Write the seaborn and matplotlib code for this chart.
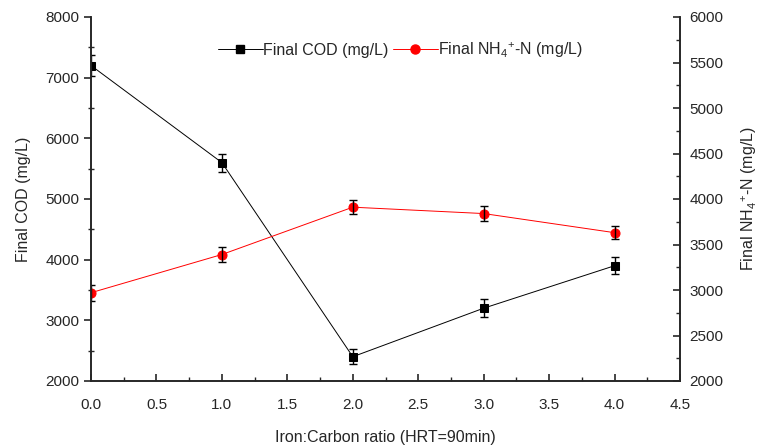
import matplotlib
matplotlib.use("Agg")
import matplotlib.pyplot as plt
import seaborn as sns
import pandas as pd
from matplotlib.ticker import MultipleLocator
from matplotlib.lines import Line2D

ratio = [0, 1, 2, 3, 4]
cod = [7200, 5600, 2400, 3200, 3900]
cod_err = [170, 150, 120, 150, 140]
nh4 = [2970, 3390, 3910, 3840, 3630]
nh4_err = [90, 80, 80, 80, 70]

sns.set_style("ticks")
plt.rcParams['font.family'] = ['Liberation Sans', 'DejaVu Sans']
plt.rcParams['mathtext.fontset'] = 'custom'
plt.rcParams['mathtext.rm'] = 'Liberation Sans'

df = pd.DataFrame({"ratio": ratio, "cod": cod, "nh4": nh4})

fig = plt.figure(figsize=(7.68, 4.45), dpi=100)
ax = fig.add_axes([91/768, 64/445, (680-91)/768, (381-17)/445])
ax2 = ax.twinx()

sns.lineplot(data=df, x="ratio", y="cod", ax=ax, color="black", linewidth=0.7,
             marker="s", markersize=6, markeredgecolor="black", markerfacecolor="black")
ax.errorbar(ratio, cod, yerr=cod_err, fmt="none", ecolor="black", elinewidth=1, capsize=3, capthick=1)

sns.lineplot(data=df, x="ratio", y="nh4", ax=ax2, color="red", linewidth=0.7,
             marker="o", markersize=6.5, markeredgecolor="red", markerfacecolor="red")
ax2.errorbar(ratio, nh4, yerr=nh4_err, fmt="none", ecolor="black", elinewidth=1, capsize=3, capthick=1)

ax.set_xlim(0, 4.5)
ax.set_ylim(2000, 8000)
ax2.set_ylim(2000, 6000)

ax.xaxis.set_major_locator(MultipleLocator(0.5))
ax.xaxis.set_minor_locator(MultipleLocator(0.25))
ax.yaxis.set_major_locator(MultipleLocator(1000))
ax.yaxis.set_minor_locator(MultipleLocator(500))
ax2.yaxis.set_major_locator(MultipleLocator(500))
ax2.yaxis.set_minor_locator(MultipleLocator(250))

ax.xaxis.set_major_formatter(matplotlib.ticker.FormatStrFormatter('%.1f'))

for a in (ax, ax2):
    a.spines['top'].set_visible(False)
    for s in a.spines.values():
        s.set_linewidth(1.2)

ax.tick_params(axis='x', which='major', direction='in', length=5, width=1.2, labelsize=11, pad=12)
ax.tick_params(axis='x', which='minor', direction='in', length=3, width=1)
ax.tick_params(axis='y', which='major', direction='out', length=5, width=1.2, labelsize=11)
ax.tick_params(axis='y', which='minor', direction='inout', length=5, width=1)
ax2.tick_params(axis='y', which='major', direction='in', length=5, width=1.2, labelsize=11, pad=7)
ax2.tick_params(axis='y', which='minor', direction='in', length=3, width=1)

ax.set_xlabel("Iron:Carbon ratio (HRT=90min)", fontsize=11.5, labelpad=13)
ax.set_ylabel("Final COD (mg/L)", fontsize=11.5, labelpad=10)
ax2.set_ylabel("Final NH$_4$$^{+}$-N (mg/L)", fontsize=11.5, labelpad=11)

h1 = Line2D([], [], color="black", lw=0.7, marker="s", markersize=6)
h2 = Line2D([], [], color="red", lw=0.7, marker="o", markersize=6.5)
ax.legend([h1, h2], ["Final COD (mg/L)", "Final NH$_4$$^{+}$-N (mg/L)"], ncol=2,
          loc="upper center", bbox_to_anchor=(0.525, 0.975), frameon=False, fontsize=11.5,
          handlelength=2.8, handletextpad=0.0, columnspacing=0.3)

fig.savefig("out.png", dpi=100)
